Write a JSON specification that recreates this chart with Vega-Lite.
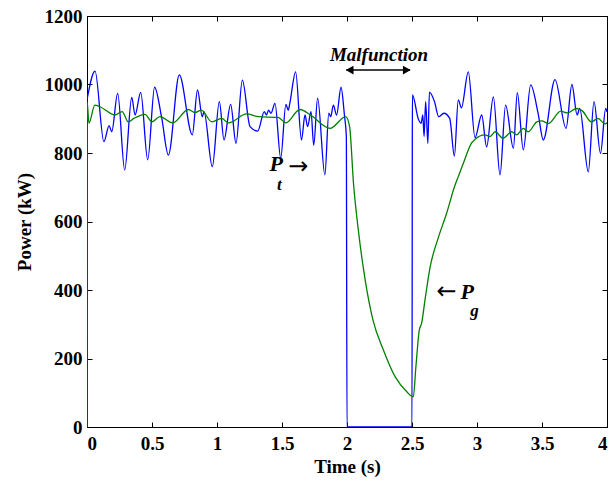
{
  "$schema": "https://vega.github.io/schema/vega-lite/v6.json",
  "width": 520,
  "height": 411,
  "autosize": "none",
  "padding": {"left": 87, "top": 16, "right": 5, "bottom": 58},
  "background": "white",
  "config": {
    "view": {"stroke": "black", "strokeWidth": 1},
    "axis": {
      "labelFont": "Liberation Serif", "labelFontWeight": "bold", "labelFontSize": 19, "labelColor": "black",
      "titleFont": "Liberation Serif", "titleFontWeight": "bold", "titleFontSize": 19, "titleColor": "black",
      "domainColor": "black", "tickColor": "black", "grid": false, "tickSize": -5
    }
  },
  "datasets": {
    "pt": [
      {"t": 0.0, "P": 955}, {"t": 0.062, "P": 1039}, {"t": 0.13, "P": 833}, {"t": 0.17, "P": 880}, {"t": 0.19, "P": 862},
      {"t": 0.236, "P": 974}, {"t": 0.29, "P": 750}, {"t": 0.344, "P": 962}, {"t": 0.37, "P": 911}, {"t": 0.413, "P": 977},
      {"t": 0.467, "P": 780}, {"t": 0.52, "P": 992}, {"t": 0.574, "P": 904}, {"t": 0.626, "P": 794}, {"t": 0.71, "P": 1028},
      {"t": 0.81, "P": 853}, {"t": 0.85, "P": 984}, {"t": 0.887, "P": 906}, {"t": 0.9, "P": 921}, {"t": 0.964, "P": 760},
      {"t": 1.018, "P": 950}, {"t": 1.054, "P": 838}, {"t": 1.105, "P": 942}, {"t": 1.146, "P": 828}, {"t": 1.195, "P": 1013},
      {"t": 1.254, "P": 877}, {"t": 1.313, "P": 864}, {"t": 1.364, "P": 921}, {"t": 1.38, "P": 911}, {"t": 1.397, "P": 925},
      {"t": 1.415, "P": 916}, {"t": 1.446, "P": 945}, {"t": 1.49, "P": 785}, {"t": 1.53, "P": 942}, {"t": 1.548, "P": 925},
      {"t": 1.56, "P": 945}, {"t": 1.605, "P": 1037}, {"t": 1.65, "P": 838}, {"t": 1.677, "P": 911}, {"t": 1.697, "P": 877},
      {"t": 1.723, "P": 921}, {"t": 1.744, "P": 823}, {"t": 1.774, "P": 960}, {"t": 1.83, "P": 736}, {"t": 1.86, "P": 916},
      {"t": 1.875, "P": 906}, {"t": 1.895, "P": 940}, {"t": 1.92, "P": 911}, {"t": 1.954, "P": 992}, {"t": 1.98, "P": 911},
      {"t": 1.995, "P": 848}, {"t": 2.0, "P": 0}, {"t": 2.5, "P": 0}, {"t": 2.503, "P": 970}, {"t": 2.55, "P": 898},
      {"t": 2.57, "P": 887}, {"t": 2.583, "P": 911}, {"t": 2.593, "P": 848}, {"t": 2.605, "P": 950}, {"t": 2.622, "P": 828},
      {"t": 2.634, "P": 978}, {"t": 2.673, "P": 950}, {"t": 2.705, "P": 906}, {"t": 2.745, "P": 916}, {"t": 2.79, "P": 901},
      {"t": 2.826, "P": 791}, {"t": 2.856, "P": 955}, {"t": 2.88, "P": 932}, {"t": 2.933, "P": 1037}, {"t": 2.985, "P": 845},
      {"t": 3.036, "P": 911}, {"t": 3.074, "P": 818}, {"t": 3.126, "P": 964}, {"t": 3.177, "P": 736}, {"t": 3.22, "P": 940},
      {"t": 3.28, "P": 814}, {"t": 3.31, "P": 976}, {"t": 3.356, "P": 809}, {"t": 3.413, "P": 999}, {"t": 3.47, "P": 916},
      {"t": 3.51, "P": 838}, {"t": 3.6, "P": 1014}, {"t": 3.685, "P": 872}, {"t": 3.73, "P": 1000}, {"t": 3.77, "P": 911},
      {"t": 3.79, "P": 930}, {"t": 3.856, "P": 745}, {"t": 3.9, "P": 950}, {"t": 3.95, "P": 799}, {"t": 3.99, "P": 930},
      {"t": 4.0, "P": 920}
    ],
    "pg": [
      {"t": 0.0, "P": 0}, {"t": 0.001, "P": 950}, {"t": 0.015, "P": 887}, {"t": 0.06, "P": 940}, {"t": 0.1, "P": 935},
      {"t": 0.215, "P": 911}, {"t": 0.27, "P": 921}, {"t": 0.318, "P": 891}, {"t": 0.36, "P": 901}, {"t": 0.446, "P": 913},
      {"t": 0.5, "P": 891}, {"t": 0.56, "P": 906}, {"t": 0.66, "P": 888}, {"t": 0.78, "P": 927}, {"t": 0.83, "P": 918},
      {"t": 0.88, "P": 925}, {"t": 0.96, "P": 891}, {"t": 1.036, "P": 901}, {"t": 1.087, "P": 888}, {"t": 1.228, "P": 914},
      {"t": 1.32, "P": 906}, {"t": 1.47, "P": 904}, {"t": 1.53, "P": 888}, {"t": 1.638, "P": 927}, {"t": 1.72, "P": 911},
      {"t": 1.87, "P": 872}, {"t": 1.99, "P": 906}, {"t": 2.02, "P": 877}, {"t": 2.05, "P": 711}, {"t": 2.09, "P": 566},
      {"t": 2.14, "P": 429}, {"t": 2.2, "P": 312}, {"t": 2.28, "P": 225}, {"t": 2.37, "P": 147}, {"t": 2.46, "P": 103},
      {"t": 2.51, "P": 88}, {"t": 2.53, "P": 176}, {"t": 2.556, "P": 283}, {"t": 2.574, "P": 303}, {"t": 2.6, "P": 371},
      {"t": 2.64, "P": 468}, {"t": 2.7, "P": 550}, {"t": 2.767, "P": 625}, {"t": 2.83, "P": 705}, {"t": 2.856, "P": 731},
      {"t": 2.895, "P": 770}, {"t": 2.96, "P": 830}, {"t": 2.985, "P": 840}, {"t": 3.06, "P": 853}, {"t": 3.1, "P": 848},
      {"t": 3.14, "P": 862}, {"t": 3.2, "P": 843}, {"t": 3.267, "P": 862}, {"t": 3.305, "P": 853}, {"t": 3.356, "P": 872},
      {"t": 3.394, "P": 862}, {"t": 3.46, "P": 891}, {"t": 3.497, "P": 894}, {"t": 3.548, "P": 886}, {"t": 3.645, "P": 922},
      {"t": 3.695, "P": 917}, {"t": 3.766, "P": 930}, {"t": 3.81, "P": 923}, {"t": 3.88, "P": 891}, {"t": 3.93, "P": 901},
      {"t": 3.985, "P": 885}, {"t": 4.0, "P": 888}
    ]
  },
  "layer": [
    {
      "data": {"name": "pt"},
      "mark": {"type": "line", "color": "#0000ff", "strokeWidth": 1.3, "interpolate": "monotone", "clip": true},
      "encoding": {
        "x": {"field": "t", "type": "quantitative", "scale": {"domain": [0, 4], "nice": false},
          "axis": {"orient": "bottom", "values": [0, 0.5, 1, 1.5, 2, 2.5, 3, 3.5, 4], "format": "~g", "title": "Time (s)", "labelPadding": 12, "titlePadding": 4}},
        "y": {"field": "P", "type": "quantitative", "scale": {"domain": [0, 1200], "nice": false},
          "axis": {"orient": "left", "values": [0, 200, 400, 600, 800, 1000, 1200], "format": "d", "title": "Power (kW)", "labelPadding": 10, "titlePadding": 10}}
      }
    },
    {
      "data": {"name": "pg"},
      "mark": {"type": "line", "color": "#008000", "strokeWidth": 1.3, "interpolate": "monotone", "clip": true},
      "encoding": {
        "x": {"field": "t", "type": "quantitative",
          "axis": {"orient": "top", "values": [0, 0.5, 1, 1.5, 2, 2.5, 3, 3.5, 4], "labels": false, "title": null}},
        "y": {"field": "P", "type": "quantitative",
          "axis": {"orient": "right", "values": [0, 200, 400, 600, 800, 1000, 1200], "labels": false, "title": null}}
      }
    },
    {
      "data": {"values": [{"t1": 1.995, "t2": 2.485, "P": 1042}]},
      "mark": {"type": "rule", "color": "black", "strokeWidth": 1.5},
      "encoding": {"x": {"field": "t1", "type": "quantitative", "axis": null}, "x2": {"field": "t2"}, "y": {"field": "P", "type": "quantitative", "axis": null}}
    },
    {
      "data": {"values": [{"t": 2.02, "P": 1042}]},
      "mark": {"type": "point", "shape": "triangle-left", "filled": true, "color": "black", "size": 80, "opacity": 1},
      "encoding": {"x": {"field": "t", "type": "quantitative", "axis": null}, "y": {"field": "P", "type": "quantitative", "axis": null}}
    },
    {
      "data": {"values": [{"t": 2.46, "P": 1042}]},
      "mark": {"type": "point", "shape": "triangle-right", "filled": true, "color": "black", "size": 80, "opacity": 1},
      "encoding": {"x": {"field": "t", "type": "quantitative", "axis": null}, "y": {"field": "P", "type": "quantitative", "axis": null}}
    },
    {
      "data": {"values": [{"t": 2.246, "P": 1086, "label": "Malfunction"}]},
      "mark": {"type": "text", "font": "Liberation Serif", "fontStyle": "italic", "fontWeight": "bold", "fontSize": 19, "color": "black", "align": "center", "baseline": "middle"},
      "encoding": {"x": {"field": "t", "type": "quantitative", "axis": null}, "y": {"field": "P", "type": "quantitative", "axis": null}, "text": {"field": "label"}}
    },
    {
      "data": {"values": [{"t": 1.455, "P": 767, "label": "P"}, {"t": 2.925, "P": 395, "label": "P"}]},
      "mark": {"type": "text", "font": "Liberation Serif", "fontStyle": "italic", "fontWeight": "bold", "fontSize": 22, "color": "black", "align": "center", "baseline": "middle"},
      "encoding": {"x": {"field": "t", "type": "quantitative", "axis": null}, "y": {"field": "P", "type": "quantitative", "axis": null}, "text": {"field": "label"}}
    },
    {
      "data": {"values": [{"t": 1.48, "P": 708, "label": "t"}, {"t": 2.98, "P": 340, "label": "g"}]},
      "mark": {"type": "text", "font": "Liberation Serif", "fontStyle": "italic", "fontWeight": "bold", "fontSize": 17, "color": "black", "align": "center", "baseline": "middle"},
      "encoding": {"x": {"field": "t", "type": "quantitative", "axis": null}, "y": {"field": "P", "type": "quantitative", "axis": null}, "text": {"field": "label"}}
    },
    {
      "data": {"values": [{"t": 1.625, "P": 760, "label": "→"}, {"t": 2.765, "P": 395, "label": "←"}]},
      "mark": {"type": "text", "font": "DejaVu Sans", "fontSize": 24, "color": "black", "align": "center", "baseline": "middle"},
      "encoding": {"x": {"field": "t", "type": "quantitative", "axis": null}, "y": {"field": "P", "type": "quantitative", "axis": null}, "text": {"field": "label"}}
    }
  ],
  "resolve": {"axis": {"x": "independent", "y": "independent"}}
}
